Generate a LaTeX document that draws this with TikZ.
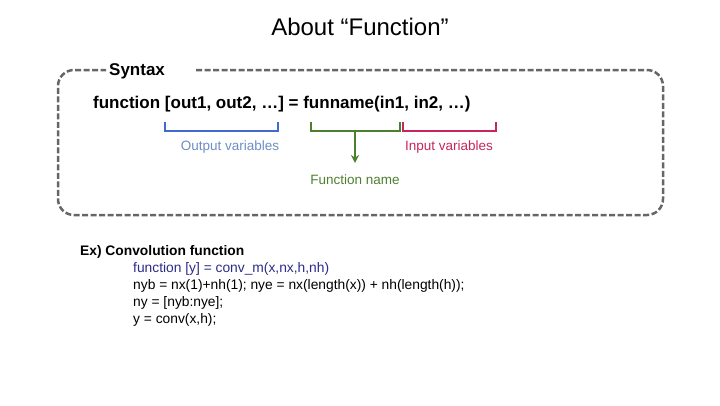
\documentclass[tikz,border=0pt]{standalone}
\usepackage{fontspec}
\setmainfont{Liberation Sans}
\usetikzlibrary{arrows.meta}
\definecolor{boxgray}{HTML}{666666}
\definecolor{bblue}{HTML}{4169D0}
\definecolor{lblue}{HTML}{6C8EC4}
\definecolor{bgreen}{HTML}{4E7F2E}
\definecolor{bmag}{HTML}{C8245E}
\definecolor{navy}{HTML}{2B2B8A}
\begin{document}
\begin{tikzpicture}[x=1pt,y=-1pt,
  lab/.style={font=\fontsize{13.5}{15}\selectfont, inner sep=0pt},
  code/.style={font=\fontsize{13.8}{16}\selectfont, anchor=west, inner sep=0pt},
  brk/.style={line width=2.5pt}]
\useasboundingbox (0,0) rectangle (720,405);
\node (title) at (360,27) {\fontsize{24}{28}\selectfont About “Function”};
\draw[boxgray, line width=2.5pt, dash pattern=on 6pt off 2.5pt, rounded corners=16pt]
  (196,70) -- (663,70) -- (663,215) -- (58,215) -- (58,70) -- (106,70);
\node[anchor=west, inner sep=0pt] (syn) at (109,71) {\fontsize{17}{20}\selectfont\bfseries Syntax};
\node[anchor=west, inner sep=0pt] (fn) at (93,104) {\fontsize{17}{20}\selectfont\bfseries function [out1, out2, …] = funname(in1, in2, …)};
\draw[brk, bblue] (165,122) -- (165,131) -- (278,131) -- (278,122);
\draw[brk, bgreen] (311,122) -- (311,131) -- (400,131) -- (400,122);
\draw[brk, bmag] (403,122) -- (403,131) -- (496,131) -- (496,122);
\coordinate (gm) at (355,131);
\node[lab, text=lblue] (outv) at (230,147) {Output variables};
\node[lab, text=bmag] (inv) at (449,147) {Input variables};
\node[lab, text=bgreen] (fname) at (355,180) {Function name};
\coordinate (ge) at (355,163);
\draw[bgreen, line width=2pt, -{Stealth[length=8pt,width=8pt]}] (gm) -- (ge);
\node[code, font=\fontsize{13.8}{16}\selectfont\bfseries] (ex) at (80,252) {Ex) Convolution function};
\node[code, text=navy] (c1) at (133,269) {function [y] = conv\_m(x,nx,h,nh)};
\node[code] (c2) at (133,286) {nyb = nx(1)+nh(1); nye = nx(length(x)) + nh(length(h));};
\node[code] (c3) at (133,303) {ny = [nyb:nye];};
\node[code] (c4) at (133,320) {y = conv(x,h);};
\end{tikzpicture}
\end{document}
